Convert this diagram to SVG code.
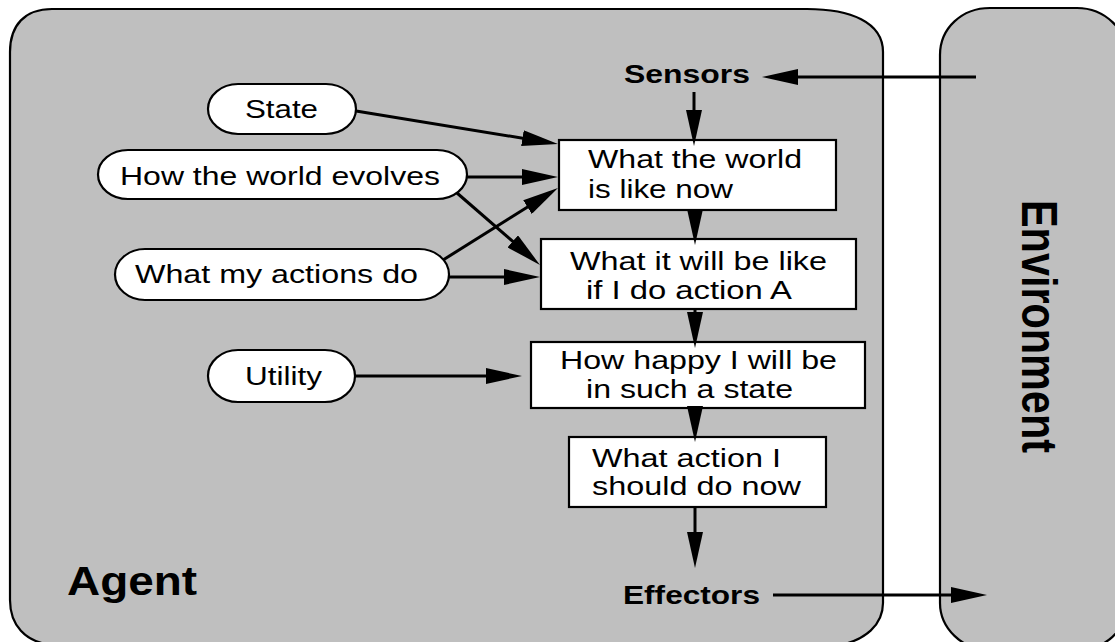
<svg xmlns="http://www.w3.org/2000/svg" width="1115" height="642" viewBox="0 0 1115 642">
  <style>
    .frame { fill: #bfbfbf; stroke: #000; stroke-width: 2.2; }
    .pill { fill: #fff; stroke: #000; stroke-width: 2.2; }
    .box { fill: #fff; stroke: #000; stroke-width: 2.2; }
    .lbl { font-family: "Liberation Sans", Arial, Helvetica, sans-serif; font-size: 25px; fill: #000; }
    .bold { font-family: "Liberation Sans", Arial, Helvetica, sans-serif; font-weight: bold; fill: #000; }
    .wire { fill: none; stroke: #000; stroke-width: 3; }
  </style>
  <defs>
    <marker id="head" viewBox="0 0 36 16" refX="26" refY="8" markerWidth="36" markerHeight="16" markerUnits="userSpaceOnUse" orient="auto">
      <path d="M0,0 L36,8 L0,16 Z" fill="#000"/>
    </marker>
  </defs>

  <rect width="1115" height="642" fill="#fff"/>

  <!-- agent container -->
  <g id="agent">
    <path class="frame" d="M52,9 L807,9 C850,9 883,22 883,52 L883,603 C883,625 865,640 840,645 L52,645 C25,642 10,625 10,600 L10,52 C10,25 25,9 52,9 Z"/>
    <text class="bold" x="67" y="595" font-size="40" textLength="130" lengthAdjust="spacingAndGlyphs">Agent</text>
  </g>

  <!-- environment container -->
  <g id="environment">
    <path class="frame" d="M990,8 L1077,8 C1105,8 1127,30 1127,55 L1127,605 C1127,630 1105,650 1077,650 L990,650 C962,650 940,628 940,603 L940,55 C940,28 962,8 990,8 Z"/>
    <text class="bold" font-size="39" textLength="253" lengthAdjust="spacingAndGlyphs" transform="translate(1022,200) scale(1.3,1) rotate(90)">Environment</text>
  </g>

  <g id="sensors">
    <text class="bold" x="624" y="83" font-size="26" textLength="126" lengthAdjust="spacingAndGlyphs">Sensors</text>
  </g>
  <g id="effectors">
    <text class="bold" x="623" y="604" font-size="26" textLength="137" lengthAdjust="spacingAndGlyphs">Effectors</text>
  </g>

  <!-- knowledge pills -->
  <g id="state">
    <rect class="pill" x="208" y="84" width="148" height="50" rx="30" ry="25"/>
    <text class="lbl" x="245" y="118" textLength="73" lengthAdjust="spacingAndGlyphs">State</text>
  </g>
  <g id="world-evolves">
    <rect class="pill" x="98" y="150" width="369" height="49" rx="30" ry="24.5"/>
    <text class="lbl" x="120" y="185" textLength="320" lengthAdjust="spacingAndGlyphs">How the world evolves</text>
  </g>
  <g id="actions-do">
    <rect class="pill" x="115" y="249" width="334" height="51" rx="30" ry="25.5"/>
    <text class="lbl" x="135" y="283" textLength="283" lengthAdjust="spacingAndGlyphs">What my actions do</text>
  </g>
  <g id="utility">
    <rect class="pill" x="208" y="350" width="147" height="52" rx="30" ry="26"/>
    <text class="lbl" x="245" y="385" textLength="77" lengthAdjust="spacingAndGlyphs">Utility</text>
  </g>

  <!-- reasoning boxes -->
  <g id="world-now">
    <rect class="box" x="559" y="140" width="277" height="70"/>
    <text class="lbl" x="588" y="168" textLength="214" lengthAdjust="spacingAndGlyphs">What the world</text>
    <text class="lbl" x="588" y="198" textLength="145" lengthAdjust="spacingAndGlyphs">is like now</text>
  </g>
  <g id="after-action">
    <rect class="box" x="541" y="239" width="315" height="70"/>
    <text class="lbl" x="570" y="270" textLength="257" lengthAdjust="spacingAndGlyphs">What it will be like</text>
    <text class="lbl" x="586" y="299" textLength="206" lengthAdjust="spacingAndGlyphs">if I do action A</text>
  </g>
  <g id="happiness">
    <rect class="box" x="531" y="342" width="334" height="66"/>
    <text class="lbl" x="560" y="369" textLength="277" lengthAdjust="spacingAndGlyphs">How happy I will be</text>
    <text class="lbl" x="586" y="398" textLength="207" lengthAdjust="spacingAndGlyphs">in such a state</text>
  </g>
  <g id="choice">
    <rect class="box" x="569" y="437" width="257" height="70"/>
    <text class="lbl" x="592" y="467" textLength="189" lengthAdjust="spacingAndGlyphs">What action I</text>
    <text class="lbl" x="592" y="495" textLength="209" lengthAdjust="spacingAndGlyphs">should do now</text>
  </g>

  <!-- connectors -->
  <g id="connectors" class="wires">
    <line class="wire" x1="976" y1="77" x2="772" y2="77" marker-end="url(#head)"/>
    <line class="wire" x1="694" y1="92" x2="694" y2="136" marker-end="url(#head)"/>
    <line class="wire" x1="356" y1="111" x2="548.1" y2="142.4" marker-end="url(#head)"/>
    <line class="wire" x1="467" y1="177" x2="548" y2="177" marker-end="url(#head)"/>
    <line class="wire" x1="443" y1="260" x2="549.5" y2="193.3" marker-end="url(#head)"/>
    <line class="wire" x1="457" y1="193" x2="532.4" y2="258.4" marker-end="url(#head)"/>
    <line class="wire" x1="448" y1="277" x2="530" y2="277" marker-end="url(#head)"/>
    <line class="wire" x1="355" y1="376" x2="512" y2="376" marker-end="url(#head)"/>
    <line class="wire" x1="695" y1="210" x2="695" y2="235" marker-end="url(#head)"/>
    <line class="wire" x1="695" y1="309" x2="695" y2="338" marker-end="url(#head)"/>
    <line class="wire" x1="695" y1="408" x2="695" y2="432" marker-end="url(#head)"/>
    <line class="wire" x1="695" y1="507" x2="695" y2="558" marker-end="url(#head)"/>
    <line class="wire" x1="773" y1="595" x2="977" y2="595" marker-end="url(#head)"/>
  </g>
</svg>
